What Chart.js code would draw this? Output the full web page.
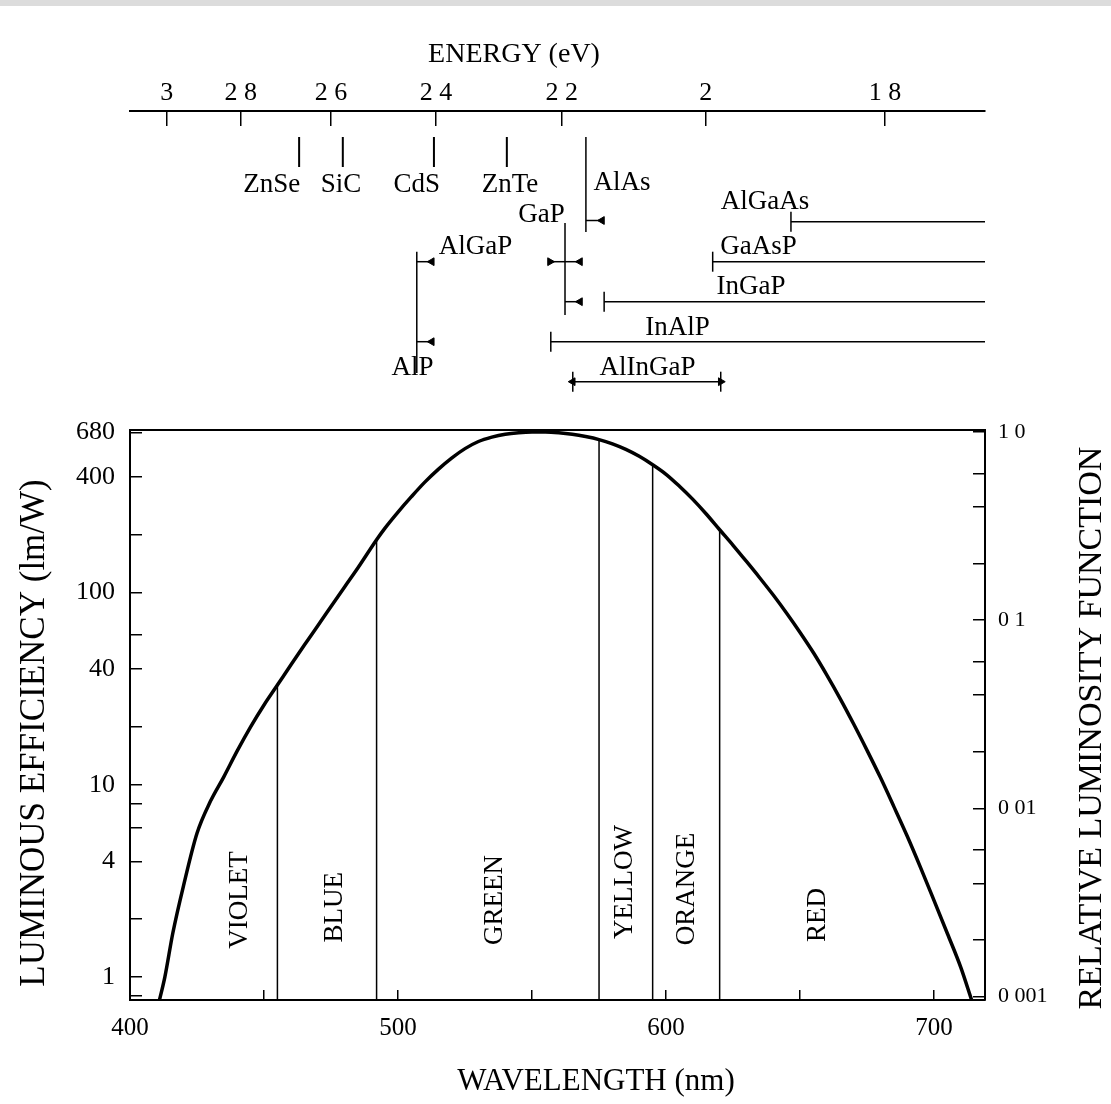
<!DOCTYPE html>
<html>
<head>
<meta charset="utf-8">
<title>Luminous efficiency and LED materials</title>
<script src="https://cdn.jsdelivr.net/npm/chart.js@4.4.1/dist/chart.umd.min.js"></script>
<style>
  html, body { margin: 0; padding: 0; background: #fff; }
  #page { position: relative; width: 1111px; height: 1104px; overflow: hidden; }
  #strip { position: absolute; left: 0; top: 0; width: 1111px; height: 6px; background: #dcdcdc; z-index: 2; }
  #materials { position: absolute; left: 0; top: 0; }
  #efficiency { position: absolute; left: 0; top: 420px; }
</style>
</head>
<body>
<div id="page">
  <div id="strip"></div>
  <canvas id="materials" width="1111" height="420"></canvas>
  <canvas id="efficiency" width="1111" height="684"></canvas>
</div>
<script>
const SERIF = '"Liberation Serif", "Times New Roman", serif';
const INK = '#000';

// wavelength span shared by both panels
const nmMin = 400;
const nmMax = 719;

// photopic curve (lm/W)
const curveNm = [411, 413, 416, 420, 425, 430, 435, 440, 445, 450, 455, 460, 465, 470, 475, 480, 485, 492, 495,
  500, 505, 510, 515, 520, 525, 530, 535, 540, 545, 550, 555, 560, 565, 570, 575, 580, 585, 590, 595,
  600, 605, 610, 615, 620, 625, 630, 635, 640, 645, 650, 655, 660, 665, 670, 675, 680, 685, 690, 695,
  700, 705, 710, 714];
const curveLmW = [0.76, 1.0, 1.7, 3.0, 5.6, 8.2, 11, 15, 20, 26, 33, 42, 53.2, 67, 84.5, 106.5, 134, 188, 215,
  262, 315, 375, 437, 500, 560, 610, 643, 666, 678, 683, 683, 677, 665, 647, 624, 593, 555, 511, 462,
  412, 357, 305, 256, 212, 176, 145, 119, 97, 78, 62, 48.6, 37.2, 28, 20.7, 15.1, 10.9, 7.7, 5.4, 3.7,
  2.5, 1.68, 1.12, 0.76];

// colour bands
const bandEdgesNm = [455, 492, 575, 595, 620];
const bandNames = ['VIOLET', 'BLUE', 'GREEN', 'YELLOW', 'ORANGE', 'RED'];
const bandLabelNm = [441, 476.5, 536.2, 584.7, 607.8, 656.7];
const bandLabelLmW = [2.52, 2.31, 2.52, 3.12, 2.87, 2.1];

// axis ticks
const wavelengthTicks = [400, 450, 500, 550, 600, 650, 700];
const efficiencyTicks = [0.8, 1, 2, 4, 6, 8, 10, 20, 40, 60, 100, 200, 400, 680];
const efficiencyLabels = { 1: '1', 4: '4', 10: '10', 40: '40', 100: '100', 400: '400', 680: '680' };
const relativeTicks = [0.001, 0.002, 0.004, 0.006, 0.01, 0.02, 0.04, 0.06, 0.1, 0.2, 0.4, 0.6, 1];
const relativeLabels = { 1: '1 0', 0.1: '0 1', 0.01: '0 01', 0.001: '0 001' };

// energy axis: label and where it falls on the wavelength scale
const energyLabels = ['3', '2 8', '2 6', '2 4', '2 2', '2', '1 8'];
const energyTickNm = [413.7, 441.3, 475.0, 514.2, 561.1, 614.8, 681.7];

// binary compounds, short bar at the gap
const binaryNm = [463.1, 479.4, 513.4, 540.6];

// composition stems (AlAs, GaP, AlGaP-AlP)
const stemNm = [570.1, 562.3, 507.0];
const stemTop = [-2.12, 0.03, 0.75];
const stemBottom = [0.26, 2.33, 3.78];

// little arrows hanging off the stems
const arrowFromNm = [570.1, 562.3, 562.3, 562.3, 507.0, 507.0];
const arrowToNm = [576.1, 567.9, 556.7, 567.9, 512.6, 512.6];
const arrowRow = [-0.03, 1, 1, 2, 1, 3];

// alloy ranges running off to the red end
const alloyStartNm = [646.6, 617.4, 576.9, 557.0];
const alloyRow = [0, 1, 2, 3];

// AlInGaP span
const quaternaryNm = [565.2, 620.4];
const quaternaryRow = 4;

// material names
const tagNames = ['ZnSe', 'SiC', 'CdS', 'ZnTe', 'AlAs', 'GaP', 'AlGaAs', 'AlGaP', 'GaAsP', 'InGaP', 'InAlP', 'AlP', 'AlInGaP'];
const tagNm = [452.9, 478.7, 507.0, 541.8, 583.6, 553.5, 636.9, 528.9, 634.5, 631.7, 604.3, 505.4, 593.1];
const tagRow = [-0.92, -0.92, -0.92, -0.92, -0.97, -0.17, -0.5, 0.62, 0.62, 1.62, 2.65, 3.65, 3.65];

const binaryTop = -2.12;
const binaryBottom = -1.37;

function segment(points, extra) {
  return Object.assign({
    data: points,
    borderColor: INK,
    borderWidth: 1.5,
    pointRadius: 0,
    tension: 0,
    fill: false
  }, extra || {});
}

// keep the plot box where it is: no extra room for end labels
function noEdgePadding(s) {
  s.paddingTop = 0;
  s.paddingBottom = 0;
  s.paddingLeft = 0;
  s.paddingRight = 0;
}

// ---------- upper panel: energy scale and materials ----------
const materialSets = [];
binaryNm.forEach(nm => {
  materialSets.push(segment([{ x: nm, y: binaryTop }, { x: nm, y: binaryBottom }], { borderWidth: 2 }));
});
stemNm.forEach((nm, i) => {
  materialSets.push(segment([{ x: nm, y: stemTop[i] }, { x: nm, y: stemBottom[i] }]));
});
arrowFromNm.forEach((nm, i) => {
  const to = arrowToNm[i];
  materialSets.push(segment([{ x: nm, y: arrowRow[i] }, { x: to, y: arrowRow[i] }], {
    pointRadius: [0, 4.5],
    pointStyle: 'triangle',
    pointRotation: to > nm ? -90 : 90,
    pointBackgroundColor: INK,
    pointBorderColor: INK,
    pointBorderWidth: 1
  }));
});
alloyStartNm.forEach((nm, i) => {
  materialSets.push(segment([{ x: nm, y: alloyRow[i] }, { x: nmMax, y: alloyRow[i] }], {
    pointRadius: [10, 0],
    pointStyle: 'line',
    pointRotation: 90,
    pointBorderColor: INK,
    pointBorderWidth: 1.5
  }));
});
const quaternaryPoints = quaternaryNm.map(nm => ({ x: nm, y: quaternaryRow }));
materialSets.push(segment(quaternaryPoints, {
  pointRadius: 4.5,
  pointStyle: 'triangle',
  pointRotation: [-90, 90],
  pointBackgroundColor: INK,
  pointBorderColor: INK,
  pointBorderWidth: 1
}));
materialSets.push(segment(quaternaryPoints.map(p => ({ x: p.x, y: p.y })), {
  showLine: false,
  pointRadius: 10,
  pointStyle: 'line',
  pointRotation: 90,
  pointBorderColor: INK,
  pointBorderWidth: 1.5
}));

const materialTags = {
  id: 'materialTags',
  afterDatasetsDraw(chart) {
    const { ctx, scales: { x, y } } = chart;
    ctx.save();
    ctx.fillStyle = INK;
    ctx.textAlign = 'center';
    ctx.textBaseline = 'middle';
    ctx.font = '27px ' + SERIF;
    tagNames.forEach((t, i) => {
      ctx.fillText(t, x.getPixelForValue(tagNm[i]), y.getPixelForValue(tagRow[i]));
    });
    ctx.font = '28px ' + SERIF;
    ctx.fillText('ENERGY (eV)', 514, 55);
    ctx.restore();
  }
};

new Chart(document.getElementById('materials'), {
  type: 'line',
  data: { datasets: materialSets },
  options: {
    responsive: false,
    animation: false,
    devicePixelRatio: 1,
    layout: { autoPadding: false, padding: { left: 130, right: 126, top: 0, bottom: 0 } },
    plugins: { legend: { display: false }, tooltip: { enabled: false } },
    scales: {
      x: {
        type: 'linear',
        position: 'top',
        min: nmMin,
        max: nmMax,
        afterBuildTicks: s => { s.ticks = energyTickNm.map(v => ({ value: v })); },
        afterFit: s => { s.height = 111; noEdgePadding(s); },
        ticks: {
          autoSkip: false,
          maxRotation: 0,
          padding: 17,
          color: INK,
          font: { family: SERIF, size: 26 },
          callback: (v, i) => energyLabels[i]
        },
        grid: { drawOnChartArea: false, tickLength: -15, color: INK, lineWidth: 1.5 },
        border: { color: INK, width: 2 }
      },
      y: { type: 'linear', display: false, reverse: true, min: -2.7675, max: 4.9575 }
    }
  },
  plugins: [materialTags]
});

// ---------- lower panel: luminous efficiency ----------
const efficiencySets = [
  segment(curveNm.map((nm, i) => ({ x: nm, y: curveLmW[i] })), {
    borderWidth: 3.5,
    cubicInterpolationMode: 'monotone'
  })
];
bandEdgesNm.forEach(nm => {
  const top = curveLmW[curveNm.indexOf(nm)];
  efficiencySets.push(segment([{ x: nm, y: top }, { x: nm, y: 0.76 }]));
});

const bandTags = {
  id: 'bandTags',
  afterDatasetsDraw(chart) {
    const { ctx, scales: { x, y } } = chart;
    ctx.save();
    ctx.fillStyle = INK;
    ctx.textAlign = 'center';
    ctx.textBaseline = 'middle';
    ctx.font = '27px ' + SERIF;
    bandNames.forEach((name, i) => {
      ctx.save();
      ctx.translate(x.getPixelForValue(bandLabelNm[i]), y.getPixelForValue(bandLabelLmW[i]));
      ctx.rotate(-Math.PI / 2);
      ctx.fillText(name, 0, 0);
      ctx.restore();
    });

    // axis captions
    ctx.font = '31px ' + SERIF;
    ctx.fillText('WAVELENGTH (nm)', 596, 662);
    ctx.font = '35px ' + SERIF;
    ctx.save();
    ctx.translate(35, 313);
    ctx.rotate(-Math.PI / 2);
    ctx.fillText('LUMINOUS EFFICIENCY (lm/W)', 0, 0);
    ctx.restore();
    ctx.font = '34px ' + SERIF;
    ctx.save();
    ctx.translate(1092, 308);
    ctx.rotate(-Math.PI / 2);
    ctx.fillText('RELATIVE LUMINOSITY FUNCTION', 0, 0);
    ctx.restore();
    ctx.restore();
  }
};

new Chart(document.getElementById('efficiency'), {
  type: 'line',
  data: { datasets: efficiencySets },
  options: {
    responsive: false,
    animation: false,
    devicePixelRatio: 1,
    layout: { autoPadding: false, padding: 0 },
    plugins: { legend: { display: false }, tooltip: { enabled: false } },
    scales: {
      x: {
        type: 'linear',
        position: 'bottom',
        min: nmMin,
        max: nmMax,
        afterBuildTicks: s => { s.ticks = wavelengthTicks.map(v => ({ value: v })); },
        afterFit: s => { s.height = 104; noEdgePadding(s); },
        ticks: {
          autoSkip: false,
          maxRotation: 0,
          padding: 23,
          color: INK,
          font: { family: SERIF, size: 25 },
          callback: v => (v % 100 === 0 ? String(v) : '')
        },
        grid: { drawOnChartArea: false, tickLength: -10, color: INK, lineWidth: 1.5 },
        border: { color: INK, width: 2 }
      },
      xTop: {
        type: 'linear',
        position: 'top',
        min: nmMin,
        max: nmMax,
        afterFit: s => { s.height = 10; noEdgePadding(s); },
        ticks: { display: false },
        grid: { display: false },
        border: { color: INK, width: 2 }
      },
      y: {
        type: 'logarithmic',
        position: 'left',
        min: 0.76,
        max: 700,
        afterBuildTicks: s => { s.ticks = efficiencyTicks.map(v => ({ value: v })); },
        afterFit: s => { s.width = 130; noEdgePadding(s); },
        ticks: {
          autoSkip: false,
          padding: 27,
          color: INK,
          font: { family: SERIF, size: 26 },
          callback: v => efficiencyLabels[v] || ''
        },
        grid: { drawOnChartArea: false, tickLength: -12, color: INK, lineWidth: 1.5 },
        border: { color: INK, width: 2 }
      },
      yRel: {
        type: 'logarithmic',
        position: 'right',
        min: 0.00096,
        max: 1.025,
        afterBuildTicks: s => { s.ticks = relativeTicks.map(v => ({ value: v })); },
        afterFit: s => { s.width = 126; noEdgePadding(s); },
        ticks: {
          autoSkip: false,
          padding: 25,
          color: INK,
          font: { family: SERIF, size: 22 },
          callback: v => relativeLabels[v] || ''
        },
        grid: { drawOnChartArea: false, tickLength: -12, color: INK, lineWidth: 1.5 },
        border: { color: INK, width: 2 }
      }
    }
  },
  plugins: [bandTags]
});
</script>
</body>
</html>
